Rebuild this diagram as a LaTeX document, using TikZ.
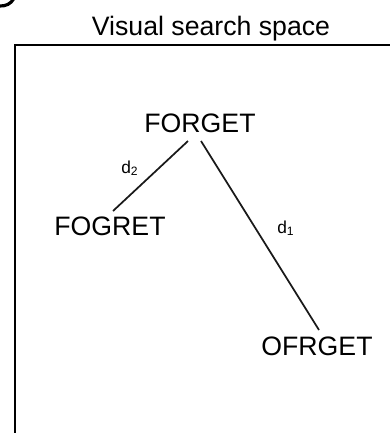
\documentclass[tikz,border=0pt]{standalone}
\usepackage{fontspec}
\setmainfont{Liberation Sans}
\usetikzlibrary{calc}
\begin{document}
\begin{tikzpicture}[x=0.75pt,y=-0.75pt,
  word/.style={inner sep=0pt,anchor=base,font=\fontsize{20}{24}\selectfont},
  dlabel/.style={inner sep=0pt,anchor=base west,font=\fontsize{13}{15}\selectfont},
  link/.style={line width=1.3pt,draw=black!90},
  frame/.style={line width=1.6pt}]
\useasboundingbox (0,0) rectangle (390,433);
% cropped panel letter fragment
\draw[line width=2.4pt] (-1,6) .. controls (6,6.5) and (11,3.5) .. (13.5,-1);
% title
\node[word] (title) at (211,35) {Visual search space};
% frame (cropped)
\coordinate (fbl) at (15,434);
\coordinate (ftl) at (15,45);
\coordinate (ftr) at (391,45);
\draw[frame] (fbl) -- (ftl) -- (ftr);
% words
\node[word] (forget) at (200,132) {FORGET};
\node[word] (fogret) at (110,235) {FOGRET};
\node[word] (ofrget) at (317,355) {OFRGET};
% connectors
\draw[link] ($(forget.base)+(-12,9)$) -- ($(fogret.base)+(3,-24)$);
\draw[link] ($(forget.base)+(1,9)$) -- ($(ofrget.base)+(2,-25)$);
% labels
\node[dlabel] (d2) at (121,173) {d\textsubscript{2}};
\node[dlabel] (d1) at (277,233) {d\textsubscript{1}};
\end{tikzpicture}
\end{document}
